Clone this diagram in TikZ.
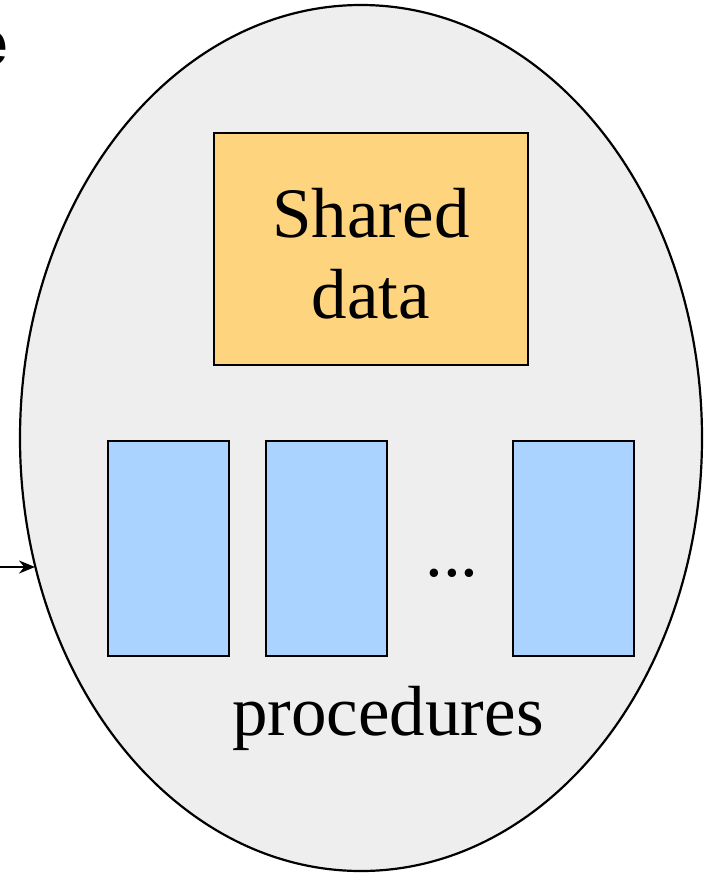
\documentclass[tikz,border=0pt]{standalone}
\usepackage{fontspec}
\setmainfont{Liberation Serif}
\newfontfamily\headsans{Liberation Sans}
\usetikzlibrary{arrows.meta}
\definecolor{cellfill}{HTML}{EEEEEE}
\definecolor{datafill}{HTML}{FFD47F}
\definecolor{procfill}{HTML}{AAD4FF}
\begin{document}
\begin{tikzpicture}[x=1pt,y=-1pt,
  databox/.style={draw=black,line width=2.2pt,fill=datafill,inner sep=0pt},
  procbox/.style={draw=black,line width=2.2pt,fill=procfill},
  bigtext/.style={font=\fontsize{71}{72}\selectfont,align=center},
]
\useasboundingbox (0,0) rectangle (704,873);
\clip (0,0) rectangle (704,873);
\node[anchor=base west,font=\headsans\bfseries\fontsize{64}{64}\selectfont,inner sep=0pt] (head) at (-28,65) {e};
\draw[line width=2.2pt,fill=cellfill] (361,438) ellipse [x radius=341,y radius=433];
\node[databox,minimum width=314pt,minimum height=232pt] (data) at (371,249) {};
\node[bigtext] (datatext) at (371,254) {Shared\\[9pt]data};
\node[procbox,minimum width=121pt,minimum height=215pt,inner sep=0pt] (p1) at (168.5,548.5) {};
\node[procbox,minimum width=121pt,minimum height=215pt,inner sep=0pt] (p2) at (326.5,548.5) {};
\node[procbox,minimum width=121pt,minimum height=215pt,inner sep=0pt] (p3) at (573.5,548.5) {};
\node[bigtext,anchor=base] (dots) at (452,576) {...};
\node[bigtext,anchor=base] (procs) at (388,735) {procedures};
\coordinate (src) at (-5,567);
\coordinate (cell) at (35,567);
\draw[line width=2.2pt,-{Stealth[length=16pt,width=13pt]}] (src) -- (cell);
\end{tikzpicture}
\end{document}
